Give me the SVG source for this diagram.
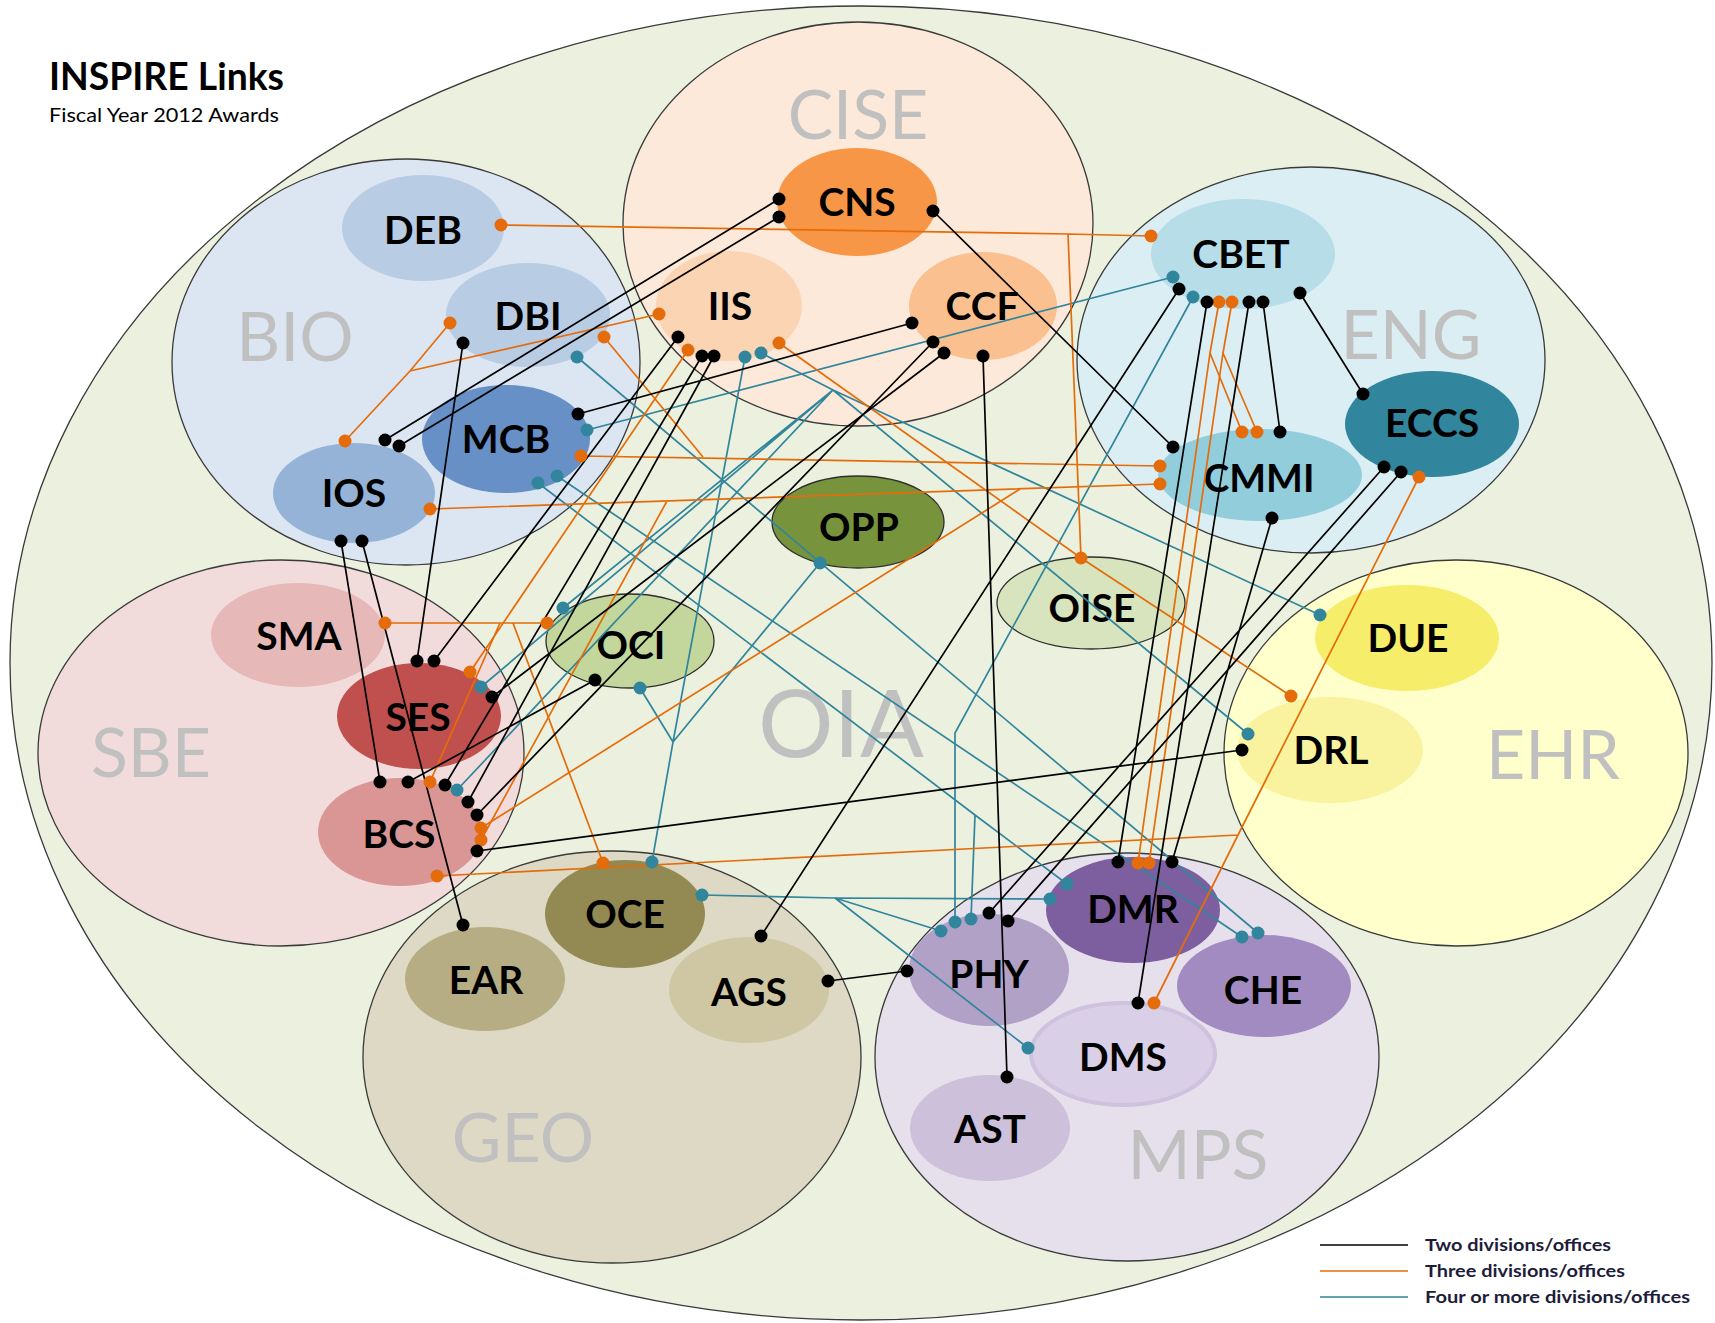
<svg xmlns="http://www.w3.org/2000/svg" width="1715" height="1323" viewBox="0 0 1715 1323">
<style>
.dv{stroke:#3a3a3a;stroke-width:1.3}
.dl{font-family:Lato,"Open Sans",sans-serif;font-size:68px;fill:#c0c0c0;text-anchor:middle}
.nl{font-family:Lato,"Open Sans",sans-serif;font-weight:bold;font-size:39px;fill:#000;text-anchor:middle}
.ol{stroke:#2e2e2e;stroke-width:1.3}
.k{stroke:#000;stroke-width:1.7;fill:none}
.o{stroke:#e46c0a;stroke-width:1.7;fill:none}
.t{stroke:#31859c;stroke-width:1.7;fill:none}
.kd circle{fill:#000}
.od circle{fill:#e46c0a}
.td circle{fill:#31859c}
.lg{font-family:Lato,"Open Sans",sans-serif;font-weight:bold;font-size:17px;fill:#1d1d3a}
</style>
<rect width="1715" height="1323" fill="#fff"/>
<ellipse id="outer" cx="861" cy="663" rx="851" ry="657" fill="#ebf1de" stroke="#3a3a3a" stroke-width="1.3"/>
<text x="49" y="90" font-family="Lato,'Open Sans',sans-serif" font-weight="bold" font-size="38" textLength="235" lengthAdjust="spacingAndGlyphs">INSPIRE Links</text>
<text x="49" y="122" font-family="Lato,'Open Sans',sans-serif" font-size="20" textLength="230" lengthAdjust="spacingAndGlyphs">Fiscal Year 2012 Awards</text>

<g id="div-GEO"><ellipse class="dv" cx="612" cy="1057" rx="249" ry="206" fill="#ddd9c4"/><text class="dl" x="523" y="1162">GEO</text></g>
<g id="div-MPS"><ellipse class="dv" cx="1127" cy="1057" rx="252" ry="204" fill="#e5e0ec"/><text class="dl" x="1198" y="1179">MPS</text></g>
<g id="div-SBE"><ellipse class="dv" cx="281" cy="753" rx="243" ry="193" fill="#f2dcdb"/><text class="dl" x="151" y="777">SBE</text></g>
<g id="div-EHR"><ellipse class="dv" cx="1456" cy="753" rx="232" ry="193" fill="#ffffcc"/><text class="dl" x="1553" y="779">EHR</text></g>
<g id="div-BIO"><ellipse class="dv" cx="406" cy="362" rx="234" ry="203" fill="#dce6f2"/><text class="dl" x="295" y="361">BIO</text></g>
<g id="div-CISE"><ellipse class="dv" cx="858" cy="224" rx="235" ry="202" fill="#fde9d9"/><text class="dl" x="858" y="139">CISE</text></g>
<g id="div-ENG"><ellipse class="dv" cx="1311" cy="360" rx="234" ry="193" fill="#dbeef4"/><text class="dl" x="1411" y="359">ENG</text></g>
<g id="div-OIA"><text class="dl" x="841" y="757" style="font-size:94px" textLength="166" lengthAdjust="spacingAndGlyphs">OIA</text></g>

<g id="DEB"><ellipse cx="423" cy="228" rx="81" ry="53" fill="#b8cce4"/><text class="nl" x="423" y="244">DEB</text></g>
<g id="DBI"><ellipse cx="528" cy="315" rx="82" ry="52" fill="#b8cce4"/><text class="nl" x="528" y="330">DBI</text></g>
<g id="MCB"><ellipse cx="506" cy="439" rx="84" ry="54" fill="#6690c6"/><text class="nl" x="506" y="453">MCB</text></g>
<g id="IOS"><ellipse cx="354" cy="493" rx="81" ry="50" fill="#95b3d7"/><text class="nl" x="354" y="507">IOS</text></g>
<g id="CNS"><ellipse cx="857" cy="202" rx="80" ry="54" fill="#f79646"/><text class="nl" x="857" y="216">CNS</text></g>
<g id="IIS"><ellipse cx="729" cy="306" rx="73" ry="55" fill="#fbd4b4"/><text class="nl" x="730" y="320">IIS</text></g>
<g id="CCF"><ellipse cx="983" cy="306" rx="74" ry="54" fill="#fac090"/><text class="nl" x="982" y="320">CCF</text></g>
<g id="CBET"><ellipse cx="1243" cy="254" rx="92" ry="55" fill="#b6dde8"/><text class="nl" x="1241" y="268">CBET</text></g>
<g id="CMMI"><ellipse cx="1260" cy="475" rx="102" ry="46" fill="#92cddc"/><text class="nl" x="1259" y="492">CMMI</text></g>
<g id="ECCS"><ellipse cx="1432" cy="424" rx="87" ry="53" fill="#31859c"/><text class="nl" x="1432" y="437">ECCS</text></g>
<g id="OPP"><ellipse class="ol" cx="858" cy="522" rx="86" ry="46" fill="#77933c"/><text class="nl" x="859" y="541">OPP</text></g>
<g id="OISE"><ellipse class="ol" cx="1091" cy="603" rx="94" ry="46" fill="#d7e4bd"/><text class="nl" x="1092" y="622">OISE</text></g>
<g id="OCI"><ellipse class="ol" cx="630" cy="641" rx="84" ry="47" fill="#c3d69b"/><text class="nl" x="631" y="659">OCI</text></g>
<g id="SMA"><ellipse cx="298" cy="635" rx="87" ry="52" fill="#e6b9b8"/><text class="nl" x="299" y="650">SMA</text></g>
<g id="SES"><ellipse cx="419" cy="716" rx="82" ry="53" fill="#c0504d"/><text class="nl" x="418" y="731">SES</text></g>
<g id="BCS"><ellipse cx="400" cy="832" rx="82" ry="54" fill="#d99694"/><text class="nl" x="399" y="848">BCS</text></g>
<g id="DUE"><ellipse cx="1407" cy="638" rx="92" ry="53" fill="#f6ee6b"/><text class="nl" x="1408" y="652">DUE</text></g>
<g id="DRL"><ellipse cx="1330" cy="750" rx="93" ry="53" fill="#f9f3a0"/><text class="nl" x="1331" y="764">DRL</text></g>
<g id="OCE"><ellipse cx="625" cy="914" rx="80" ry="54" fill="#938953"/><text class="nl" x="625" y="928">OCE</text></g>
<g id="EAR"><ellipse cx="485" cy="979" rx="80" ry="52" fill="#b7ad84"/><text class="nl" x="486" y="994">EAR</text></g>
<g id="AGS"><ellipse cx="749" cy="990" rx="80" ry="53" fill="#cfc6a3"/><text class="nl" x="749" y="1006">AGS</text></g>
<g id="DMR"><ellipse cx="1133" cy="910" rx="87" ry="53" fill="#7d5fa0"/><text class="nl" x="1133" y="923">DMR</text></g>
<g id="PHY"><ellipse cx="989" cy="970" rx="80" ry="56" fill="#b2a1c7"/><text class="nl" x="989" y="988">PHY</text></g>
<g id="CHE"><ellipse cx="1264" cy="986" rx="87" ry="51" fill="#a28bc0"/><text class="nl" x="1263" y="1004">CHE</text></g>
<g id="DMS"><ellipse cx="1123" cy="1054" rx="92" ry="51" fill="#d9cfe6" stroke="#cec2de" stroke-width="4"/><text class="nl" x="1123" y="1071">DMS</text></g>
<g id="AST"><ellipse cx="990" cy="1128" rx="80" ry="53" fill="#ccc0da"/><text class="nl" x="990" y="1143">AST</text></g>

<g id="connectors">
<g class="t">
<path d="M587,430L1173,277"/>
<path d="M702,895L835,898L1050,899M835,898L941,931M835,898L1028,1048"/>
<path d="M745,357L673,742L652,862M820,563L673,742M640,688L673,742"/>
<path d="M761,353L833,390L1320,615M833,390L1248,734M833,390L563,608M833,390L481,687M833,390L457,790"/>
<path d="M538,483L975,815L1067,884M975,815L971,919"/>
<path d="M557,476L1242,937"/>
<path d="M577,357L1258,933"/>
<path d="M1193,297L955,733L955,922"/>
</g>
<g class="o">
<path d="M501,225L1068,234L1151,236M1068,234L1081,558"/>
<path d="M450,323L410,371L345,441M410,371L659,314"/>
<path d="M604,337L703,457M581,456L1160,466"/>
<path d="M430,509L1160,484M667,501L481,840"/>
<path d="M779,343L1081,558L1291,696"/>
<path d="M385,623L547,623M513,623L603,863"/>
<path d="M688,350L470,672"/>
<path d="M430,782L500,623"/>
<path d="M481,828L1020,489"/>
<path d="M1219,302L1210,353L1242,432M1210,353L1138,863"/>
<path d="M1232,302L1223,353L1257,432M1223,353L1149,863"/>
<path d="M1419,477L1238,835L1154,1003M437,876L1238,835"/>
</g>
<g class="k">
<path d="M779,199L385,440M779,217L399,446M933,211L1173,447M912,323L578,414M983,356L1007,1077M944,353L492,697M933,342L477,815M678,337L434,661M702,356L445,785M714,356L468,802M463,343L417,661M341,541L380,782M362,541L463,925M595,680L408,782M477,851L1242,750M761,936L1179,289M828,981L907,971M1207,302L1118,862M1249,302L1138,1003M1263,302L1280,432M1300,293L1363,394M1272,518L1172,862M1384,467L989,913M1401,472L1008,921"/>
</g>
<g class="td">
<circle cx="587" cy="430" r="6.5"/><circle cx="1173" cy="277" r="6.5"/><circle cx="702" cy="895" r="6.5"/><circle cx="1050" cy="899" r="6.5"/><circle cx="941" cy="931" r="6.5"/><circle cx="1028" cy="1048" r="6.5"/><circle cx="745" cy="357" r="6.5"/><circle cx="652" cy="862" r="6.5"/><circle cx="820" cy="563" r="6.5"/><circle cx="640" cy="688" r="6.5"/><circle cx="761" cy="353" r="6.5"/><circle cx="1320" cy="615" r="6.5"/><circle cx="1248" cy="734" r="6.5"/><circle cx="563" cy="608" r="6.5"/><circle cx="481" cy="687" r="6.5"/><circle cx="457" cy="790" r="6.5"/><circle cx="538" cy="483" r="6.5"/><circle cx="1067" cy="884" r="6.5"/><circle cx="971" cy="919" r="6.5"/><circle cx="557" cy="476" r="6.5"/><circle cx="1242" cy="937" r="6.5"/><circle cx="577" cy="357" r="6.5"/><circle cx="1258" cy="933" r="6.5"/><circle cx="1193" cy="297" r="6.5"/><circle cx="955" cy="922" r="6.5"/>
</g>
<g class="od">
<circle cx="501" cy="225" r="6.5"/><circle cx="1151" cy="236" r="6.5"/><circle cx="1081" cy="558" r="6.5"/><circle cx="450" cy="323" r="6.5"/><circle cx="345" cy="441" r="6.5"/><circle cx="659" cy="314" r="6.5"/><circle cx="604" cy="337" r="6.5"/><circle cx="581" cy="456" r="6.5"/><circle cx="1160" cy="466" r="6.5"/><circle cx="430" cy="509" r="6.5"/><circle cx="1160" cy="484" r="6.5"/><circle cx="481" cy="840" r="6.5"/><circle cx="779" cy="343" r="6.5"/><circle cx="1291" cy="696" r="6.5"/><circle cx="385" cy="623" r="6.5"/><circle cx="547" cy="623" r="6.5"/><circle cx="603" cy="863" r="6.5"/><circle cx="688" cy="350" r="6.5"/><circle cx="470" cy="672" r="6.5"/><circle cx="430" cy="782" r="6.5"/><circle cx="481" cy="828" r="6.5"/><circle cx="1219" cy="302" r="6.5"/><circle cx="1242" cy="432" r="6.5"/><circle cx="1138" cy="863" r="6.5"/><circle cx="1232" cy="302" r="6.5"/><circle cx="1257" cy="432" r="6.5"/><circle cx="1149" cy="863" r="6.5"/><circle cx="1419" cy="477" r="6.5"/><circle cx="1154" cy="1003" r="6.5"/><circle cx="437" cy="876" r="6.5"/>
</g>
<g class="kd">
<circle cx="779" cy="199" r="6.5"/><circle cx="385" cy="440" r="6.5"/><circle cx="779" cy="217" r="6.5"/><circle cx="399" cy="446" r="6.5"/><circle cx="933" cy="211" r="6.5"/><circle cx="1173" cy="447" r="6.5"/><circle cx="912" cy="323" r="6.5"/><circle cx="578" cy="414" r="6.5"/><circle cx="983" cy="356" r="6.5"/><circle cx="1007" cy="1077" r="6.5"/><circle cx="944" cy="353" r="6.5"/><circle cx="492" cy="697" r="6.5"/><circle cx="933" cy="342" r="6.5"/><circle cx="477" cy="815" r="6.5"/><circle cx="678" cy="337" r="6.5"/><circle cx="434" cy="661" r="6.5"/><circle cx="702" cy="356" r="6.5"/><circle cx="445" cy="785" r="6.5"/><circle cx="714" cy="356" r="6.5"/><circle cx="468" cy="802" r="6.5"/><circle cx="463" cy="343" r="6.5"/><circle cx="417" cy="661" r="6.5"/><circle cx="341" cy="541" r="6.5"/><circle cx="380" cy="782" r="6.5"/><circle cx="362" cy="541" r="6.5"/><circle cx="463" cy="925" r="6.5"/><circle cx="595" cy="680" r="6.5"/><circle cx="408" cy="782" r="6.5"/><circle cx="477" cy="851" r="6.5"/><circle cx="1242" cy="750" r="6.5"/><circle cx="761" cy="936" r="6.5"/><circle cx="1179" cy="289" r="6.5"/><circle cx="828" cy="981" r="6.5"/><circle cx="907" cy="971" r="6.5"/><circle cx="1207" cy="302" r="6.5"/><circle cx="1118" cy="862" r="6.5"/><circle cx="1249" cy="302" r="6.5"/><circle cx="1138" cy="1003" r="6.5"/><circle cx="1263" cy="302" r="6.5"/><circle cx="1280" cy="432" r="6.5"/><circle cx="1300" cy="293" r="6.5"/><circle cx="1363" cy="394" r="6.5"/><circle cx="1272" cy="518" r="6.5"/><circle cx="1172" cy="862" r="6.5"/><circle cx="1384" cy="467" r="6.5"/><circle cx="989" cy="913" r="6.5"/><circle cx="1401" cy="472" r="6.5"/><circle cx="1008" cy="921" r="6.5"/>
</g>
</g>

<g id="legend">
<line x1="1320" y1="1245" x2="1408" y2="1245" class="k"/>
<line x1="1320" y1="1271" x2="1408" y2="1271" class="o"/>
<line x1="1320" y1="1297" x2="1408" y2="1297" class="t"/>
<text class="lg" x="1425" y="1251" textLength="186" lengthAdjust="spacingAndGlyphs">Two divisions/offices</text>
<text class="lg" x="1425" y="1277" textLength="200" lengthAdjust="spacingAndGlyphs">Three divisions/offices</text>
<text class="lg" x="1425" y="1303" textLength="265" lengthAdjust="spacingAndGlyphs">Four or more divisions/offices</text>
</g>
</svg>
